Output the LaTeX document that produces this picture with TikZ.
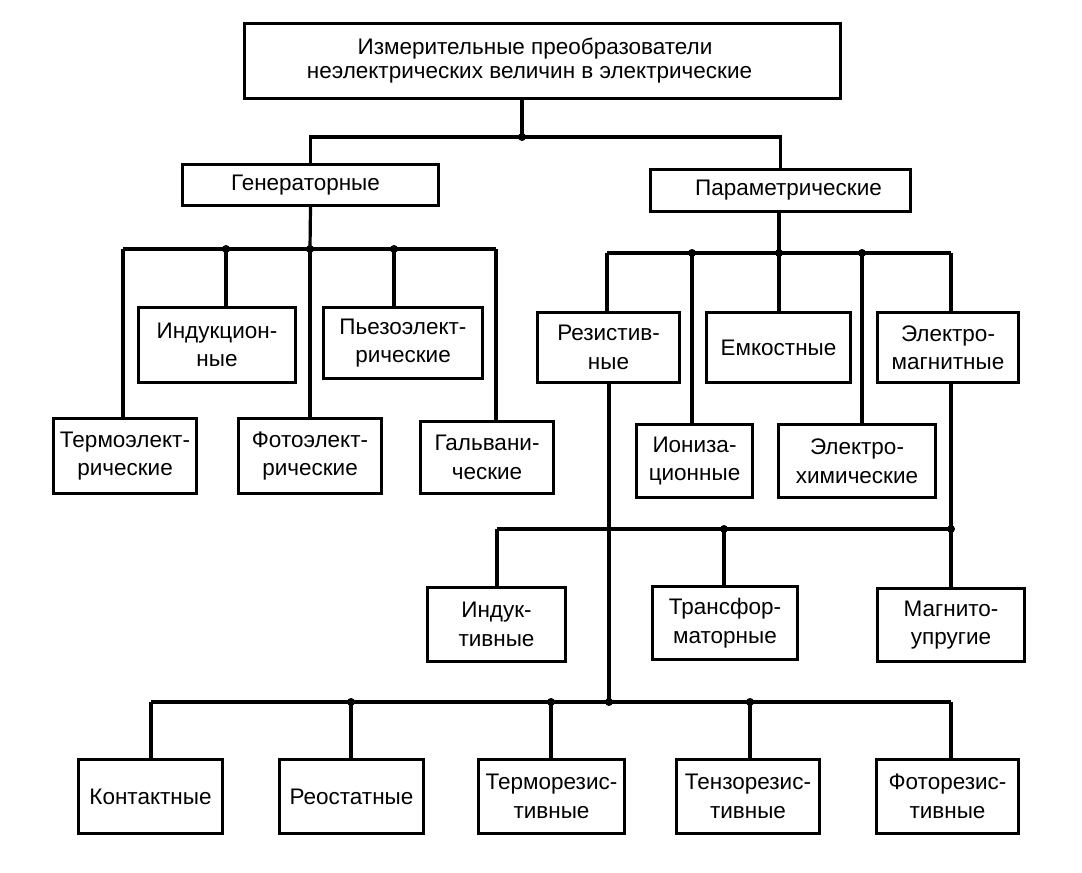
\documentclass[tikz,border=0pt]{standalone}
\usepackage{fontspec}
\setmainfont{Liberation Sans}
\begin{document}
\begin{tikzpicture}[x=1pt,y=-1pt,
  box/.style={draw,line width=3.2pt,align=center,inner sep=2pt,font=\fontsize{22.5}{28.5}\selectfont},
  wire/.style={line width=3.2pt},
  jdot/.style={radius=4pt}]
\useasboundingbox (0,0) rectangle (1082,873);
% boxes
\node[box,minimum width=596pt,minimum height=75pt,font=\fontsize{22.5}{24}\selectfont] (top) at (542.5,61) {Измерительные преобразователи\hspace*{15pt}\\неэлектрических величин в электрические\hspace*{26pt}};
\node[box,minimum width=256pt,minimum height=41pt] (gen) at (310.5,185) {Генераторные\hspace*{10pt}};
\node[box,minimum width=260pt,minimum height=42pt] (par) at (780.5,190.5) {\hspace*{16pt}Параметрические};
\node[box,minimum width=157pt,minimum height=75pt] (ind) at (217,345) {Индукцион-\\ные};
\node[box,minimum width=159pt,minimum height=71pt] (piezo) at (403,343) {Пьезоэлект-\\рические};
\node[box,minimum width=143pt,minimum height=75pt] (termo) at (125,456) {Термоэлект-\\рические};
\node[box,minimum width=143pt,minimum height=75pt] (foto) at (310,456) {Фотоэлект-\\рические};
\node[box,minimum width=133pt,minimum height=72pt] (galv) at (487,457.5) {Гальвани-\\ческие};
\node[box,minimum width=142pt,minimum height=70pt] (rez) at (608.5,347.5) {Резистив-\\ные};
\node[box,minimum width=144pt,minimum height=70pt] (emk) at (778.5,347.5) {Емкостные};
\node[box,minimum width=141pt,minimum height=70pt] (emag) at (948,347.5) {Электро-\\магнитные};
\node[box,minimum width=116pt,minimum height=73pt] (ion) at (694.5,461) {Иониза-\\ционные};
\node[box,minimum width=157pt,minimum height=73pt] (ehim) at (857,461) {Электро-\\химические};
\node[box,minimum width=138pt,minimum height=74pt] (indk) at (496.5,624.5) {Индук-\\тивные};
\node[box,minimum width=145pt,minimum height=73pt] (trans) at (725,623) {Трансфор-\\маторные};
\node[box,minimum width=147pt,minimum height=73pt] (mupr) at (951,625) {Магнито-\\упругие};
\node[box,minimum width=144pt,minimum height=74pt] (kont) at (150.5,796.5) {Контактные};
\node[box,minimum width=144pt,minimum height=74pt] (reo) at (351.5,796.5) {Реостатные};
\node[box,minimum width=146pt,minimum height=74pt] (trez) at (551.5,796.5) {Терморезис-\\тивные};
\node[box,minimum width=143pt,minimum height=74pt] (tenz) at (748,796.5) {Тензорезис-\\тивные};
\node[box,minimum width=142pt,minimum height=74pt] (frez) at (947.5,796.5) {Фоторезис-\\тивные};
% junction coordinates
\coordinate (j0) at (522,137);
\coordinate (g0) at (123,249);
\coordinate (g1) at (226,249);
\coordinate (g2) at (310,249);
\coordinate (g3) at (394,249);
\coordinate (g4) at (496,249);
\coordinate (p0) at (607,253);
\coordinate (p1) at (692,253);
\coordinate (p2) at (779,253);
\coordinate (p3) at (862,253);
\coordinate (p4) at (951,253);
\coordinate (m0) at (497,529);
\coordinate (m1) at (724,529);
\coordinate (m2) at (951,529);
\coordinate (r0) at (151,702);
\coordinate (r1) at (351,702);
\coordinate (r2) at (551,702);
\coordinate (rj) at (609,702);
\coordinate (r3) at (750,702);
\coordinate (r4) at (951,702);
% connectors
\draw[wire] (top.south -| j0) -- (j0);
\draw[wire] (gen.north) |- (j0) -| (par.north);
\draw[wire] (gen.south) -- (g2);
\draw[wire] (g0) -- (g4);
\draw[wire] (g0) -- (g0 |- termo.north);
\draw[wire] (g1) -- (g1 |- ind.north);
\draw[wire] (g2) -- (g2 |- foto.north);
\draw[wire] (g3) -- (g3 |- piezo.north);
\draw[wire] (g4) -- (g4 |- galv.north);
\draw[wire] (par.south -| p2) -- (p2);
\draw[wire] (p0) -- (p4);
\draw[wire] (p0) -- (p0 |- rez.north);
\draw[wire] (p1) -- (p1 |- ion.north);
\draw[wire] (p2) -- (p2 |- emk.north);
\draw[wire] (p3) -- (p3 |- ehim.north);
\draw[wire] (p4) -- (p4 |- emag.north);
\draw[wire] (emag.south -| m2) -- (m2);
\draw[wire] (m0) -- (m2);
\draw[wire] (m0) -- (m0 |- indk.north);
\draw[wire] (m1) -- (m1 |- trans.north);
\draw[wire] (m2) -- (m2 |- mupr.north);
\draw[wire] (rez.south -| rj) -- (rj);
\draw[wire] (r0) -- (r4);
\draw[wire] (r0) -- (r0 |- kont.north);
\draw[wire] (r1) -- (r1 |- reo.north);
\draw[wire] (r2) -- (r2 |- trez.north);
\draw[wire] (r3) -- (r3 |- tenz.north);
\draw[wire] (r4) -- (r4 |- frez.north);
% dots
\foreach \c in {j0,g1,g2,g3,p1,p2,p3,m1,m2,r1,r2,rj,r3}
  \fill[jdot] (\c) circle;
\end{tikzpicture}
\end{document}
